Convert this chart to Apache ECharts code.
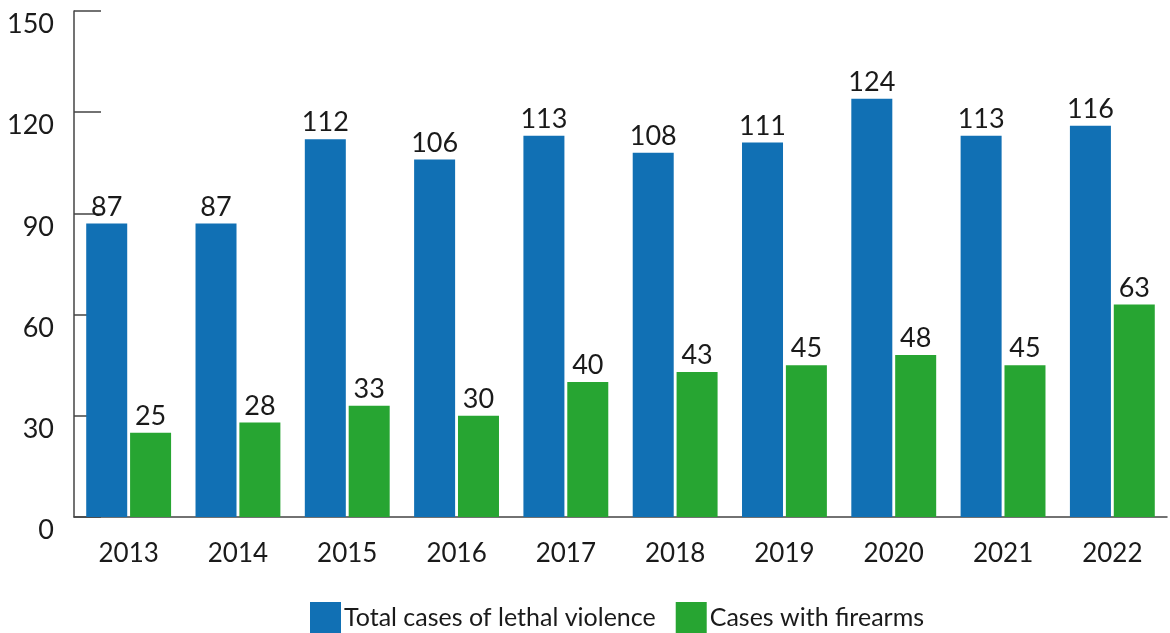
<!DOCTYPE html>
<html>
<head>
<meta charset="utf-8">
<script src="https://cdn.jsdelivr.net/npm/echarts@6/dist/echarts.min.js"></script>
<style>
  html, body { margin: 0; padding: 0; background: #fff; }
  #chart { width: 1170px; height: 633px; }
</style>
</head>
<body>
<div id="chart"></div>
<script>
// Yearly counts of lethal violence cases
const years = ['2013', '2014', '2015', '2016', '2017', '2018', '2019', '2020', '2021', '2022'];
const totalCases = [87, 87, 112, 106, 113, 108, 111, 124, 113, 116];
const firearmCases = [25, 28, 33, 30, 40, 43, 45, 48, 45, 63];
const seriesNames = ['Total cases of lethal violence', 'Cases with firearms'];

const FONT = 'Lato, "Noto Sans", sans-serif';
const TEXT = '#1a1a1a';
const AXIS = '#444';

const chart = echarts.init(document.getElementById('chart'));

const labelStyle = {
  show: true,
  position: 'top',
  distance: 3,
  color: TEXT,
  fontFamily: FONT,
  fontSize: 27
};

chart.setOption({
  animation: false,
  grid: { left: 74, right: 3, top: 11, bottom: 116 },
  legend: {
    left: 305,
    top: 597,
    itemWidth: 31,
    itemHeight: 31,
    itemGap: 20,
    icon: 'rect',
    textStyle: { color: TEXT, fontFamily: FONT, fontSize: 25, padding: [7, 0, 0, -2] },
    data: seriesNames
  },
  xAxis: {
    type: 'category',
    data: years,
    axisLine: { lineStyle: { color: AXIS, width: 1.5 } },
    axisTick: { inside: true, length: 12, lineStyle: { color: AXIS, width: 1.5 } },
    axisLabel: { color: TEXT, fontFamily: FONT, fontSize: 26, margin: 24 }
  },
  yAxis: {
    type: 'value',
    min: 0,
    max: 150,
    interval: 30,
    axisLine: { show: true, lineStyle: { color: AXIS, width: 1.5 } },
    axisTick: { show: true, inside: true, length: 27, lineStyle: { color: AXIS, width: 1.5 } },
    splitLine: { show: false },
    axisLabel: { color: TEXT, fontFamily: FONT, fontSize: 27, margin: 20, verticalAlign: 'top' }
  },
  series: [
    {
      name: seriesNames[0],
      type: 'bar',
      data: totalCases,
      barWidth: 41,
      barGap: '7%',
      itemStyle: { color: '#1170b4' },
      label: labelStyle
    },
    {
      name: seriesNames[1],
      type: 'bar',
      data: firearmCases,
      barWidth: 41,
      itemStyle: { color: '#27a532' },
      label: labelStyle
    }
  ]
});
</script>
</body>
</html>
